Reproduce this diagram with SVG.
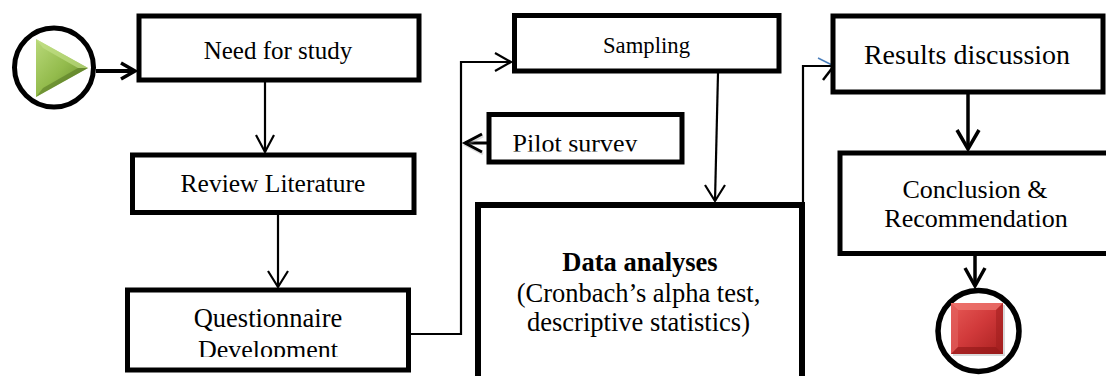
<svg xmlns="http://www.w3.org/2000/svg" width="1106" height="376" viewBox="0 0 1106 376">
<defs>
<style>
.box{fill:#fff;stroke:#000;stroke-width:5}
.t{font-family:"Liberation Serif","Times New Roman",serif;fill:#000;text-anchor:middle}
.c{fill:none;stroke:#000;stroke-width:2.2;stroke-linejoin:miter}
.c3{fill:none;stroke:#000;stroke-width:3.5}
.ring{fill:#fff;stroke:#000;stroke-width:5}
</style>
<linearGradient id="gGreen" x1="0" y1="0" x2="1" y2="1">
<stop offset="0" stop-color="#b9d97a"/>
<stop offset="0.5" stop-color="#93bb4c"/>
<stop offset="1" stop-color="#5f8426"/>
</linearGradient>
<linearGradient id="gRed" x1="0" y1="0" x2="1" y2="1">
<stop offset="0" stop-color="#e85a56"/>
<stop offset="0.5" stop-color="#d0393a"/>
<stop offset="1" stop-color="#a8201f"/>
</linearGradient>
<clipPath id="clipDev"><rect x="120" y="280" width="300" height="77"/></clipPath>
<clipPath id="clipPilot"><rect x="490" y="110" width="190" height="41.5"/></clipPath>
</defs>
<rect width="1106" height="376" fill="#fff"/>

<g id="connectors">
<!-- start -> need -->
<path d="M96,71 H135" fill="none" stroke="#000" stroke-width="4"/>
<path d="M121,63 L135,71 L121,79" fill="none" stroke="#000" stroke-width="3.5"/>
<!-- need -> review -->
<path class="c" d="M265,81 V152"/>
<path class="c" d="M256,135 L265,152 L274,135"/>
<!-- review -> questionnaire -->
<path class="c" d="M278,213 V287"/>
<path class="c" d="M268,271 L278,287 L288,271"/>
<!-- questionnaire -> sampling -->
<path class="c" d="M410,334 H461 V62 H511"/>
<path class="c" d="M495,53 L511,62 L495,71"/>
<!-- pilot -> line -->
<path d="M487,143 H465" fill="none" stroke="#000" stroke-width="3"/>
<path d="M482,134 L465,143 L482,152" fill="none" stroke="#999" stroke-width="3" opacity="0.35" transform="translate(1,2)"/>
<path d="M482,134 L465,143 L482,152" fill="none" stroke="#000" stroke-width="3"/>
<!-- sampling -> data -->
<path class="c" d="M718,73 L715,201"/>
<path class="c" d="M705,185 L715,201 L725,185"/>
<!-- data -> results -->
<path class="c" d="M803,205 V66 H832"/>
<path d="M823,80 L833,67" fill="none" stroke="#000" stroke-width="2.5"/>
<path d="M818,58 L834,66" fill="none" stroke="#4a7ebb" stroke-width="1.5"/>
<!-- results -> conclusion -->
<path class="c3" d="M968,93 V149"/>
<path class="c3" d="M957,130 L968,149 L979,130"/>
<!-- conclusion -> end -->
<path class="c3" d="M975,256 V286"/>
<path class="c3" d="M965,268 L975,286 L985,268"/>
</g>

<g id="start">
<circle class="ring" cx="54" cy="67.5" r="39.5"/>
<polygon points="36,39 88,68 36,97" fill="url(#gGreen)"/>
<polygon points="36,39 88,68 78,68 43,48" fill="#c6e28c" opacity="0.6"/>
<polygon points="36,97 88,68 78,68 43,88" fill="#4f7020" opacity="0.5"/>
</g>

<g id="need">
<rect class="box" x="139" y="16" width="280" height="64"/>
<text class="t" x="278" y="59" font-size="25">Need for study</text>
</g>

<g id="review">
<rect class="box" x="132.5" y="155" width="281.5" height="57.5"/>
<text class="t" x="273" y="192" font-size="25.5">Review Literature</text>
</g>

<g id="questionnaire">
<rect class="box" x="127.5" y="290" width="281" height="80"/>
<text class="t" x="268" y="327" font-size="26.5">Questionnaire</text>
<text class="t" x="268" y="358" font-size="26" clip-path="url(#clipDev)">Development</text>
</g>

<g id="sampling">
<rect class="box" x="514.5" y="15.5" width="264.5" height="55.5"/>
<text class="t" x="646.5" y="53" font-size="22.7">Sampling</text>
</g>

<g id="pilot">
<rect class="box" x="489" y="114.5" width="193" height="47.5"/>
<text class="t" x="575" y="152" font-size="26" clip-path="url(#clipPilot)">Pilot survey</text>
</g>

<g id="data">
<rect class="box" x="478" y="205" width="324" height="200" style="stroke-width:6"/>
<text class="t" x="640" y="271" font-size="26.5" font-weight="bold">Data analyses</text>
<text class="t" x="638.5" y="302" font-size="26.5">(Cronbach’s alpha test,</text>
<text class="t" x="638.5" y="331" font-size="26.5">descriptive statistics)</text>
</g>

<g id="results">
<rect class="box" x="833" y="16" width="270" height="76"/>
<text class="t" x="967" y="64" font-size="28">Results discussion</text>
</g>

<g id="conclusion">
<rect class="box" x="840" y="153" width="280" height="100.5"/>
<text class="t" x="975" y="198" font-size="26">Conclusion &amp;</text>
<text class="t" x="976" y="227" font-size="26">Recommendation</text>
</g>

<g id="end">
<circle class="ring" cx="978.5" cy="331" r="40.5" style="stroke-width:5.5"/>
<rect x="953" y="305" width="52" height="51" fill="#000" opacity="0.15"/>
<rect x="951" y="303" width="52" height="51" fill="url(#gRed)"/>
<polygon points="951,303 1003,303 996,310 958,310" fill="#f07a74" opacity="0.7"/>
<polygon points="951,303 958,310 958,347 951,354" fill="#e26460" opacity="0.6"/>
<polygon points="951,354 958,347 996,347 1003,354" fill="#8e1616" opacity="0.6"/>
<polygon points="1003,303 1003,354 996,347 996,310" fill="#9e1c1c" opacity="0.5"/>
</g>
</svg>
